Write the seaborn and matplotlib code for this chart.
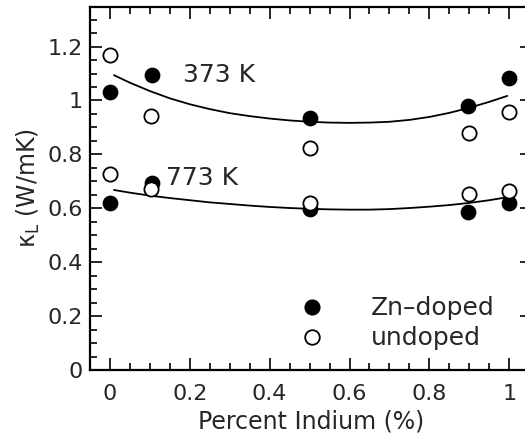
import matplotlib
matplotlib.use("Agg")
import matplotlib.pyplot as plt
import seaborn as sns
import pandas as pd
from matplotlib.ticker import MultipleLocator, FuncFormatter
from matplotlib.lines import Line2D

# ---- data ----
zn_x = [0.0, 0.105, 0.5, 0.897, 1.0]
zn_373 = [1.03, 1.096, 0.934, 0.98, 1.084]
zn_773 = [0.619, 0.695, 0.596, 0.586, 0.619]

un_x = [0.0, 0.102, 0.5, 0.9, 1.0]
un_373 = [1.169, 0.944, 0.824, 0.878, 0.957]
un_773 = [0.727, 0.673, 0.621, 0.654, 0.665]

# fit curves
fit_x = [0.01, 0.05, 0.1, 0.15, 0.2, 0.25, 0.3, 0.35, 0.4, 0.45, 0.5,
         0.55, 0.6, 0.65, 0.7, 0.75, 0.8, 0.85, 0.9, 0.95, 0.995]
fit_373 = [1.094, 1.066, 1.035, 1.008, 0.986, 0.968, 0.953, 0.942, 0.933, 0.926, 0.921,
           0.918, 0.917, 0.918, 0.921, 0.928, 0.939, 0.954, 0.973, 0.995, 1.017]
fit_773 = [0.668, 0.658, 0.647, 0.638, 0.630, 0.622, 0.616, 0.610, 0.605, 0.601, 0.598,
           0.596, 0.595, 0.595, 0.597, 0.601, 0.606, 0.612, 0.620, 0.630, 0.641]

x_ticks = [0, 0.2, 0.4, 0.6, 0.8, 1.0]
y_ticks = [0, 0.2, 0.4, 0.6, 0.8, 1.0, 1.2]

sns.set_theme(style="ticks")
plt.rcParams["font.family"] = ["DejaVu Sans"]
plt.rcParams["mathtext.fontset"] = "dejavusans"

fig = plt.figure(figsize=(5.25, 4.46), dpi=100)
ax = fig.add_axes([90 / 525, 76 / 446, (532 - 90) / 525, (370 - 6.7) / 446])

df_zn = pd.DataFrame({"x": zn_x * 2, "y": zn_373 + zn_773})
df_un = pd.DataFrame({"x": un_x * 2, "y": un_373 + un_773})

sns.lineplot(x=fit_x, y=fit_373, ax=ax, color="black", lw=1.3, zorder=2)
sns.lineplot(x=fit_x, y=fit_773, ax=ax, color="black", lw=1.3, zorder=2)

sns.scatterplot(data=df_zn, x="x", y="y", ax=ax, s=105, color="black",
                edgecolor="black", linewidth=1.1, zorder=3)
sns.scatterplot(data=df_un, x="x", y="y", ax=ax, s=105, facecolor="white",
                edgecolor="black", linewidth=1.3, zorder=4)

ax.text(0.183, 1.095, "373 K", fontsize=18, va="center", ha="left")
ax.text(0.14, 0.712, "773 K", fontsize=18, va="center", ha="left")

ax.set_xlim(-0.05, 1.057)
ax.set_ylim(0, 1.348)
ax.set_xticks(x_ticks)
ax.set_yticks(y_ticks)
fmt = FuncFormatter(lambda v, p: f"{v:g}")
ax.xaxis.set_major_formatter(fmt)
ax.yaxis.set_major_formatter(fmt)
ax.xaxis.set_minor_locator(MultipleLocator(0.05))
ax.yaxis.set_minor_locator(MultipleLocator(0.05))
ax.tick_params(which="both", direction="in", top=True, right=True, width=1.2,
               color="black")
ax.tick_params(which="major", length=8.5, labelsize=16)
ax.tick_params(which="minor", length=5)
ax.tick_params(axis="x", which="major", pad=10)
ax.tick_params(axis="y", which="major", pad=5)
for s in ax.spines.values():
    s.set_linewidth(1.6)
    s.set_color("black")

ax.set_xlabel("Percent Indium (%)", fontsize=17, labelpad=4)
ax.set_ylabel("\u03ba$_\\mathrm{L}$ (W/mK)", fontsize=17, labelpad=4)

handles = [
    Line2D([], [], marker="o", ls="none", markersize=10.5, markerfacecolor="black",
           markeredgecolor="black", markeredgewidth=1.1),
    Line2D([], [], marker="o", ls="none", markersize=10.5, markerfacecolor="white",
           markeredgecolor="black", markeredgewidth=1.3),
]
ax.legend(handles, ["Zn\u2013doped", "undoped"], loc="lower left",
          bbox_to_anchor=((299.5 - 90) / 442, (370 - 350.5) / 363.3),
          frameon=False, fontsize=18, handlelength=1.0, handletextpad=1.86,
          labelspacing=0.25, borderpad=0, borderaxespad=0)

fig.savefig("out.png", dpi=100)
